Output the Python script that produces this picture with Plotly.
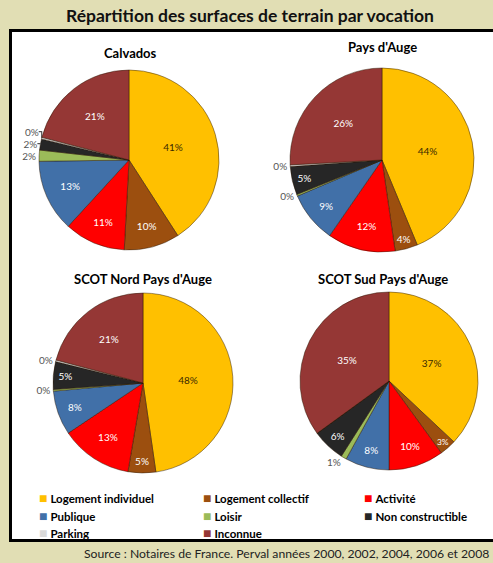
import plotly.graph_objects as go

W, H = 493, 563

categories = ["Logement individuel", "Logement collectif", "Activité", "Publique",
              "Loisir", "Non constructible", "Parking", "Inconnue"]
colors = ["#FFC000", "#9C4F0F", "#FF0000", "#4170A8", "#9BBB59", "#262626", "#D9D9D9", "#953735"]

titles = ["Calvados", "Pays d'Auge", "SCOT Nord Pays d'Auge", "SCOT Sud Pays d'Auge"]
calvados = [41, 10, 11, 13, 2, 2, 0.3, 21]
pays_auge = [44, 4, 12, 9, 0.3, 5, 0.3, 26]
scot_nord = [48, 5, 13, 8, 0.3, 5, 0.3, 21]
scot_sud = [37, 3, 10, 8, 1, 6, 0, 35]
series = [calvados, pays_auge, scot_nord, scot_sud]

# layout (pixel boxes: center x, center y, radius)
boxes = [(129, 160, 90), (382, 160, 92), (143, 383, 90), (389, 381, 89)]
title_pos = [(130, 53), (382, 47), (143, 279), (383, 279)]
legend_cols = [43, 207, 368]
legend_rows = [497, 515, 532]

def px(x):
    return x / W

def py(y):
    return 1 - y / H

fig = go.Figure()
inside_colors = ["#3A2A00", "white", "white", "white", "white", "white", "#404040", "white"]
for i, (vals, (cx, cy, r)) in enumerate(zip(series, boxes)):
    positions = []
    tmpl = []
    for v in vals:
        positions.append("inside" if v >= 3 else "outside")
        tmpl.append("%{value:.0f}%" if v > 0 else "")
    fig.add_trace(go.Pie(
        labels=categories, values=vals, sort=False, direction="clockwise", rotation=0,
        marker=dict(colors=colors, line=dict(color="rgba(40,20,0,0.45)", width=1)),
        textposition=positions, texttemplate=tmpl,
        insidetextfont=dict(color=inside_colors, size=10, family="Lato"),
        outsidetextfont=dict(color="#555555", size=10, family="Lato"),
        insidetextorientation="horizontal",
        domain=dict(x=[px(cx - r), px(cx + r)], y=[py(cy + r), py(cy - r)]),
        showlegend=False, hoverinfo="label+percent",
    ))

annotations = []
for t, (tx, ty) in zip(titles, title_pos):
    annotations.append(dict(text="<b>" + t + "</b>", x=px(tx), y=py(ty), xref="paper", yref="paper",
                            xanchor="center", yanchor="middle", showarrow=False,
                            font=dict(size=13, family="Lato", color="black")))
annotations.append(dict(text="<b>Répartition des surfaces de terrain par vocation</b>", x=px(250), y=py(15),
                        xref="paper", yref="paper", xanchor="center", yanchor="middle", showarrow=False,
                        font=dict(size=17.5, family="Lato", color="#111111")))
annotations.append(dict(text="Source : Notaires de France. Perval années 2000, 2002, 2004, 2006 et 2008",
                        x=px(491), y=py(553), xref="paper", yref="paper", xanchor="right", yanchor="middle",
                        showarrow=False, font=dict(size=12.2, family="Lato", color="#222222")))

# legend built as text entries (3 columns)
for k, (cat, col) in enumerate(zip(categories, colors)):
    cx = legend_cols[k % 3]
    cy = legend_rows[k // 3]
    annotations.append(dict(
        text="<span style='color:%s;font-size:14px'>■</span> <b>%s</b>" % (col, cat),
        x=px(cx - 6), y=py(cy), xref="paper", yref="paper", xanchor="left", yanchor="middle",
        showarrow=False, font=dict(size=11.5, family="Lato", color="black")))

shapes = [dict(type="rect", xref="paper", yref="paper", x0=px(10.5), x1=px(520), y0=py(540.5), y1=py(30.5),
               fillcolor="white", line=dict(color="black", width=3), layer="below")]

fig.update_layout(
    width=W, height=H, margin=dict(l=0, r=0, t=0, b=0, autoexpand=False),
    paper_bgcolor="#E1DEB4", plot_bgcolor="white",
    annotations=annotations, shapes=shapes, showlegend=False,
)
fig.write_html("out.html")
